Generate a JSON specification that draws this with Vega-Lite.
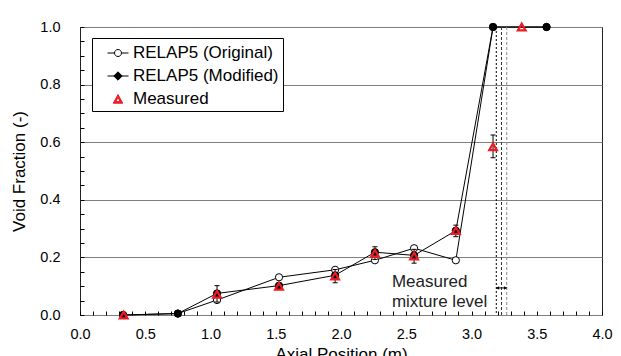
{
  "$schema": "https://vega.github.io/schema/vega-lite/v6.json",
  "width": 522,
  "height": 288,
  "autosize": {"type": "none"},
  "padding": {"left": 80, "top": 27, "right": 19, "bottom": 41},
  "background": "white",
  "config": {
    "font": "Liberation Sans",
    "view": {"stroke": "#222222", "strokeWidth": 1},
    "axis": {
      "domainColor": "black",
      "labelColor": "black",
      "titleColor": "black",
      "labelFont": "Liberation Sans",
      "titleFont": "Liberation Sans",
      "titleFontWeight": "normal",
      "labelFontSize": 14.5,
      "titleFontSize": 17,
      "labelOverlap": false
    },
    "legend": {
      "orient": "none",
      "legendX": 12,
      "legendY": 11,
      "fillColor": "white",
      "strokeColor": "black",
      "padding": 4,
      "symbolOffset": 11,
      "symbolSize": 441,
      "symbolStrokeWidth": 1,
      "symbolOpacity": 1,
      "labelFont": "Liberation Sans",
      "labelFontSize": 17,
      "labelColor": "black",
      "labelOffset": 4,
      "rowPadding": 4,
      "labelLimit": 400
    }
  },
  "datasets": {
    "d": [
      {"series": "RELAP5 (Original)", "x": 0.33, "y": 0.0},
      {"series": "RELAP5 (Original)", "x": 0.75, "y": 0.005},
      {"series": "RELAP5 (Original)", "x": 1.05, "y": 0.052},
      {"series": "RELAP5 (Original)", "x": 1.525, "y": 0.131},
      {"series": "RELAP5 (Original)", "x": 1.955, "y": 0.157},
      {"series": "RELAP5 (Original)", "x": 2.26, "y": 0.19},
      {"series": "RELAP5 (Original)", "x": 2.56, "y": 0.232},
      {"series": "RELAP5 (Original)", "x": 2.88, "y": 0.19},
      {"series": "RELAP5 (Original)", "x": 3.165, "y": 1.0},
      {"series": "RELAP5 (Original)", "x": 3.575, "y": 1.0},
      {"series": "RELAP5 (Modified)", "x": 0.33, "y": 0.0},
      {"series": "RELAP5 (Modified)", "x": 0.75, "y": 0.005},
      {"series": "RELAP5 (Modified)", "x": 1.05, "y": 0.075},
      {"series": "RELAP5 (Modified)", "x": 1.525, "y": 0.102},
      {"series": "RELAP5 (Modified)", "x": 1.955, "y": 0.138},
      {"series": "RELAP5 (Modified)", "x": 2.26, "y": 0.218},
      {"series": "RELAP5 (Modified)", "x": 2.56, "y": 0.207},
      {"series": "RELAP5 (Modified)", "x": 2.88, "y": 0.293},
      {"series": "RELAP5 (Modified)", "x": 3.165, "y": 1.0},
      {"series": "RELAP5 (Modified)", "x": 3.575, "y": 1.0},
      {"series": "Measured", "x": 0.335, "y": 0.0, "lo": null, "hi": null},
      {"series": "Measured", "x": 1.05, "y": 0.072, "lo": 0.045, "hi": 0.102},
      {"series": "Measured", "x": 1.525, "y": 0.1, "lo": 0.09, "hi": 0.11},
      {"series": "Measured", "x": 1.955, "y": 0.135, "lo": 0.112, "hi": 0.158},
      {"series": "Measured", "x": 2.26, "y": 0.214, "lo": 0.193, "hi": 0.237},
      {"series": "Measured", "x": 2.56, "y": 0.205, "lo": 0.18, "hi": 0.228},
      {"series": "Measured", "x": 2.88, "y": 0.293, "lo": 0.272, "hi": 0.312},
      {"series": "Measured", "x": 3.165, "y": 0.584, "lo": 0.546, "hi": 0.625},
      {"series": "Measured", "x": 3.385, "y": 1.0, "lo": null, "hi": null}
    ]
  },
  "data": {"name": "d"},
  "encoding": {
    "x": {
      "field": "x", "type": "quantitative",
      "scale": {"domain": [0, 4], "nice": false, "zero": false},
      "axis": {
        "title": "Axial Position (m)",
        "values": [0,0.1,0.2,0.3,0.4,0.5,0.6,0.7,0.8,0.9,1,1.1,1.2,1.3,1.4,1.5,1.6,1.7,1.8,1.9,2,2.1,2.2,2.3,2.4,2.5,2.6,2.7,2.8,2.9,3,3.1,3.2,3.3,3.4,3.5,3.6,3.7,3.8,3.9,4],
        "labelExpr": "abs(datum.value*2 - round(datum.value*2)) < 0.001 ? format(datum.value, '.1f') : ''",
        "ticks": true,
        "tickSize": 4,
        "tickWidth": 1,
        "tickColor": "black",
        "offset": -4,
        "domain": false,
        "labelPadding": 12,
        "labelFlush": false,
        "labelOverlap": false,
        "grid": false,
        "titlePadding": 6
      }
    },
    "y": {
      "field": "y", "type": "quantitative",
      "scale": {"domain": [0, 1], "nice": false},
      "axis": {
        "title": "Void Fraction (-)",
        "values": [0,0.05,0.1,0.15,0.2,0.25,0.3,0.35,0.4,0.45,0.5,0.55,0.6,0.65,0.7,0.75,0.8,0.85,0.9,0.95,1],
        "labelExpr": "abs(datum.value*5 - round(datum.value*5)) < 0.001 ? format(datum.value, '.1f') : ''",
        "ticks": true,
        "tickSize": 4,
        "tickWidth": 1,
        "tickColor": "black",
        "offset": -4,
        "domain": false,
        "labelPadding": 20,
        "labelOverlap": false,
        "grid": true,
        "gridColor": "#7f7f7f",
        "gridWidth": 1,
        "gridOpacity": {"condition": {"test": "abs(datum.value*5 - round(datum.value*5)) < 0.001", "value": 1}, "value": 0},
        "titlePadding": 11
      }
    }
  },
  "layer": [
    {
      "transform": [{"filter": "datum.series !== 'Measured'"}],
      "mark": {"type": "line", "color": "black", "strokeWidth": 1},
      "encoding": {"detail": {"field": "series", "type": "nominal"}}
    },
    {
      "data": {"values": [{"x": 3.19}]},
      "mark": {"type": "rule", "color": "black", "strokeWidth": 1, "strokeDash": [2, 2]},
      "encoding": {"y": null}
    },
    {
      "data": {"values": [{"x": 3.23}]},
      "mark": {"type": "rule", "color": "#333333", "strokeWidth": 1, "strokeDash": [3, 2]},
      "encoding": {"y": null}
    },
    {
      "data": {"values": [{"x": 3.27}]},
      "mark": {"type": "rule", "color": "#888888", "strokeWidth": 1, "strokeDash": [3, 2]},
      "encoding": {"y": null}
    },
    {
      "mark": {"type": "point", "opacity": 0},
      "encoding": {
        "shape": {
          "field": "series", "type": "nominal",
          "scale": {
            "domain": ["RELAP5 (Original)", "RELAP5 (Modified)", "Measured"],
            "range": [
              "M-1,0L-0.333,0M0.333,0L1,0M0.333,0A0.333,0.333,0,1,1,-0.333,0A0.333,0.333,0,1,1,0.333,0Z",
              "M-1,0L1,0M0,-0.4L0.4,0L0,0.4L-0.4,0Z",
              "M0,-0.42L0.45,0.4L-0.45,0.4ZM0,-0.16L-0.21,0.25L0.21,0.25Z"
            ]
          },
          "legend": {"title": null, "labelExpr": "datum.label + '\u00a0\u00a0\u00a0\u00a0'"}
        },
        "fill": {
          "field": "series", "type": "nominal",
          "scale": {"domain": ["RELAP5 (Original)", "RELAP5 (Modified)", "Measured"], "range": ["white", "black", "#ed1c24"]},
          "legend": {"title": null, "labelExpr": "datum.label + '\u00a0\u00a0\u00a0\u00a0'"}
        },
        "stroke": {
          "field": "series", "type": "nominal",
          "scale": {"domain": ["RELAP5 (Original)", "RELAP5 (Modified)", "Measured"], "range": ["black", "black", "#ed1c24"]},
          "legend": {"title": null, "labelExpr": "datum.label + '\u00a0\u00a0\u00a0\u00a0'"}
        }
      }
    },
    {
      "transform": [{"filter": "datum.series === 'RELAP5 (Original)'"}],
      "mark": {"type": "point", "shape": "circle", "filled": true, "fill": "white", "stroke": "black", "strokeWidth": 1, "size": 52, "opacity": 1}
    },
    {
      "transform": [{"filter": "datum.series === 'RELAP5 (Modified)'"}],
      "mark": {"type": "point", "shape": "circle", "filled": true, "fill": "black", "stroke": "black", "strokeWidth": 1, "size": 52, "opacity": 1}
    },
    {
      "transform": [{"filter": "datum.series === 'Measured' && datum.lo != null"}],
      "mark": {"type": "rule", "color": "black", "strokeWidth": 1},
      "encoding": {
        "y": {"field": "lo", "type": "quantitative"},
        "y2": {"field": "hi"}
      }
    },
    {
      "transform": [{"filter": "datum.series === 'Measured' && datum.lo != null"}],
      "mark": {"type": "tick", "orient": "horizontal", "color": "black", "size": 5, "thickness": 1, "opacity": 1},
      "encoding": {"y": {"field": "lo", "type": "quantitative"}}
    },
    {
      "transform": [{"filter": "datum.series === 'Measured' && datum.lo != null"}],
      "mark": {"type": "tick", "orient": "horizontal", "color": "black", "size": 5, "thickness": 1, "opacity": 1},
      "encoding": {"y": {"field": "hi", "type": "quantitative"}}
    },
    {
      "transform": [{"filter": "datum.series === 'Measured'"}],
      "mark": {"type": "point", "shape": "triangle-up", "filled": false, "stroke": "#ed1c24", "strokeWidth": 2.2, "size": 60, "opacity": 1}
    },
    {
      "data": {"values": [{"x": 2.39, "y": 0.096, "label": "Measured\nmixture level"}]},
      "mark": {"type": "text", "align": "left", "baseline": "alphabetic", "lineBreak": "\n", "lineHeight": 20, "font": "Liberation Sans", "fontSize": 17, "color": "#222222"},
      "encoding": {"text": {"field": "label"}}
    },
    {
      "data": {"values": [{"x": 3.19, "x2": 3.27, "y": 0.094}]},
      "mark": {"type": "rule", "color": "black", "strokeWidth": 1},
      "encoding": {"x2": {"field": "x2"}}
    },
    {
      "data": {"values": [{"x": 3.2, "y": 0.094}]},
      "mark": {"type": "point", "shape": "triangle-left", "filled": true, "color": "black", "size": 12, "opacity": 1}
    },
    {
      "data": {"values": [{"x": 3.26, "y": 0.094}]},
      "mark": {"type": "point", "shape": "triangle-right", "filled": true, "color": "black", "size": 12, "opacity": 1}
    }
  ]
}
